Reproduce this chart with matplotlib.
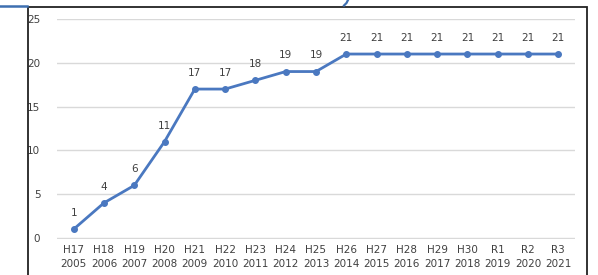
import matplotlib
matplotlib.use("Agg")
import matplotlib.pyplot as plt
from matplotlib.lines import Line2D
from matplotlib.patches import Rectangle

# data
era_labels = ["H17", "H18", "H19", "H20", "H21", "H22", "H23", "H24", "H25", "H26",
              "H27", "H28", "H29", "H30", "R1", "R2", "R3"]
years = [2005, 2006, 2007, 2008, 2009, 2010, 2011, 2012, 2013, 2014,
         2015, 2016, 2017, 2018, 2019, 2020, 2021]
values = [1, 4, 6, 11, 17, 17, 18, 19, 19, 21, 21, 21, 21, 21, 21, 21, 21]

line_color = "#4a78c0"
text_color = "#404040"

fig = plt.figure(figsize=(5.98, 2.75), dpi=100)
fig.patch.set_facecolor("white")

W, H = 598, 275
ax = fig.add_axes([57 / W, 1 - 239 / H, (575 - 57) / W, (239 - 19) / H])

x = list(range(len(values)))
ax.plot(x, values, color=line_color, lw=2.0, marker="o", ms=4, zorder=3)
for xi, v in zip(x, values):
    ax.annotate(str(v), (xi, v), xytext=(0, 8), textcoords="offset points",
                ha="center", va="bottom", fontsize=7.5, color=text_color)

ax.set_xlim(-0.55, len(values) - 0.45)
ax.set_ylim(-0.12, 25)
ax.set_yticks([0, 5, 10, 15, 20, 25])
ax.yaxis.grid(True, color="#d9d9d9", lw=1)
ax.set_axisbelow(True)
ax.set_xticks(x)
ax.set_xticklabels([f"{e}\n{y}" for e, y in zip(era_labels, years)],
                   fontsize=7.5, color=text_color, linespacing=1.5)
ax.tick_params(axis="y", labelsize=7.5, labelcolor=text_color, length=0, pad=12)
ax.tick_params(axis="x", length=0, pad=4)
for s in ax.spines.values():
    s.set_visible(False)

# outer frame and the bits of decoration at the top
fig.add_artist(Rectangle((27.5 / W, -0.05), (587 - 27.5) / W, 1.05 - 6.5 / H,
                         transform=fig.transFigure, fill=False,
                         edgecolor="#222222", lw=1.3))
fig.add_artist(Line2D([0, 27 / W], [1 - 6 / H, 1 - 6 / H], transform=fig.transFigure,
                      color="#3d6fb0", lw=1.8))
fig.add_artist(Line2D([348 / W, 346.5 / W, 344 / W], [1.0, 1 - 3 / H, 1 - 5.5 / H],
                      transform=fig.transFigure, color="#3d6fb0", lw=1.6))

fig.savefig("out.png", dpi=100)
